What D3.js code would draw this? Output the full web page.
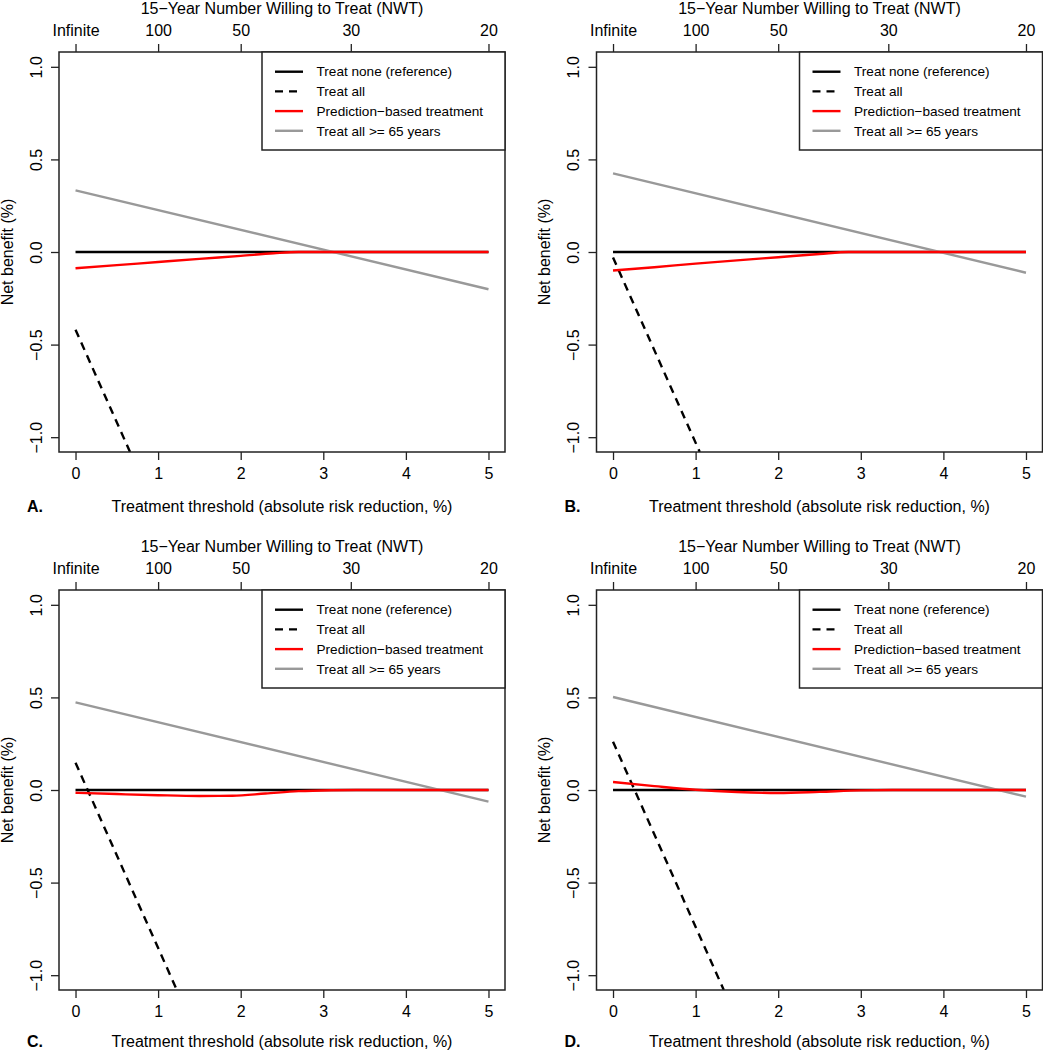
<!DOCTYPE html>
<html>
<head>
<meta charset="utf-8">
<script src="https://cdn.jsdelivr.net/npm/d3@7"></script>
<style>
  html, body { margin: 0; padding: 0; background: #fff; }
  svg { display: block; font-family: "Liberation Sans", Arial, sans-serif; }
</style>
</head>
<body>
<svg id="chart" width="1043" height="1050"></svg>
<script>
// ---------- data ----------
const panelLabels = ["A.", "B.", "C.", "D."];
const xTicks = [0, 1, 2, 3, 4, 5];
const yTicks = [-1.0, -0.5, 0.0, 0.5, 1.0];
const nwtLabels = ["Infinite", "100", "50", "30", "20"];
const nwtThresholds = [0, 1, 2, 3.333, 5];
const seriesNames = ["Treat none (reference)", "Treat all", "Prediction\u2212based treatment", "Treat all >= 65 years"];
const seriesColors = ["#000000", "#000000", "#ff0000", "#999999"];
const seriesDash = [null, "8,6", null, null];

const treatNoneA = [[0, 0], [5, 0]];
const treatAllA = [[0, -0.42], [0.66, -1.08]];
const predictionA = [[0, -0.088], [0.5, -0.071], [1, -0.054], [1.5, -0.037], [2, -0.021], [2.4, -0.007], [2.7, 0], [5, 0]];
const age65A = [[0, 0.333], [5, -0.201]];

const treatNoneB = [[0, 0], [5, 0]];
const treatAllB = [[0, -0.03], [1.05, -1.08]];
const predictionB = [[0, -0.100], [0.5, -0.082], [1, -0.063], [1.5, -0.045], [2, -0.028], [2.5, -0.011], [2.85, 0], [5, 0]];
const age65B = [[0, 0.425], [5, -0.112]];

const treatNoneC = [[0, 0], [5, 0]];
const treatAllC = [[0, 0.147], [1.227, -1.08]];
const predictionC = [[0, -0.015], [0.5, -0.022], [1, -0.028], [1.5, -0.032], [1.9, -0.031], [2.3, -0.019], [2.7, -0.006], [3.1, -0.001], [3.4, 0], [5, 0]];
const age65C = [[0, 0.473], [5, -0.063]];

const treatNoneD = [[0, 0], [5, 0]];
const treatAllD = [[0, 0.261], [1.341, -1.08]];
const predictionD = [[0, 0.043], [0.5, 0.021], [1, 0.001], [1.5, -0.011], [2, -0.016], [2.5, -0.010], [3, -0.002], [3.5, 0], [5, 0]];
const age65D = [[0, 0.502], [5, -0.036]];

const panelSeries = [
  [treatNoneA, treatAllA, predictionA, age65A],
  [treatNoneB, treatAllB, predictionB, age65B],
  [treatNoneC, treatAllC, predictionC, age65C],
  [treatNoneD, treatAllD, predictionD, age65D]
];

// ---------- layout ----------
const W = 1043, H = 1050;
const boxW = 446, boxH = 400;
const panelOrigins = [[59, 52], [596.5, 52], [59, 590], [596.5, 590]];
const fs = 16, legendFs = 13.6;

const svg = d3.select("#chart");

panelOrigins.forEach(([left, top], pi) => {
  const right = left + boxW, bottom = top + boxH;
  const x = d3.scaleLinear().domain([-0.2, 5.2]).range([left, right]);
  const y = d3.scaleLinear().domain([-1.08, 1.08]).range([bottom, top]);
  const g = svg.append("g");

  const clipId = "clip" + pi;
  svg.append("defs").append("clipPath").attr("id", clipId)
    .append("rect").attr("x", left).attr("y", top).attr("width", boxW).attr("height", boxH);

  const line = d3.line().x(d => x(d[0])).y(d => y(d[1]));
  const curved = d3.line().x(d => x(d[0])).y(d => y(d[1])).curve(d3.curveMonotoneX);
  const lg = g.append("g").attr("clip-path", `url(#${clipId})`);
  const order = [0, 1, 3, 2];
  order.forEach(si => {
    const data = panelSeries[pi][si];
    lg.append("path")
      .attr("d", si === 2 ? curved(data) : line(data))
      .attr("fill", "none")
      .attr("stroke", seriesColors[si])
      .attr("stroke-width", 2.4)
      .attr("stroke-dasharray", seriesDash[si]);
  });

  // bottom axis
  const bAxis = g.append("g").attr("transform", `translate(0,${bottom})`)
    .call(d3.axisBottom(x).tickValues(xTicks).tickSize(8).tickSizeOuter(0).tickFormat(d3.format("d")));
  bAxis.select(".domain").remove();
  bAxis.selectAll("line").attr("stroke", "#222").attr("stroke-width", 1.3);
  bAxis.selectAll("text").attr("font-size", fs).attr("font-family", "Liberation Sans, Arial, sans-serif")
    .attr("fill", "#000").attr("y", 21).attr("dy", "0.35em");

  // left axis (rotated labels)
  const lAxis = g.append("g").attr("transform", `translate(${left},0)`)
    .call(d3.axisLeft(y).tickValues(yTicks).tickSize(8).tickSizeOuter(0).tickFormat(d => d3.format(".1f")(d).replace("-", "\u2212")));
  lAxis.select(".domain").remove();
  lAxis.selectAll("line").attr("stroke", "#222").attr("stroke-width", 1.3);
  lAxis.selectAll("text").attr("font-size", fs).attr("font-family", "Liberation Sans, Arial, sans-serif")
    .attr("fill", "#000").attr("x", null).attr("dy", null)
    .attr("text-anchor", "middle").attr("dominant-baseline", "central")
    .attr("transform", "translate(-23,0) rotate(-90)");

  // top axis (NWT)
  const tAxis = g.append("g").attr("transform", `translate(0,${top})`)
    .call(d3.axisTop(x).tickValues(nwtThresholds).tickSize(8).tickSizeOuter(0).tickFormat((d, i) => nwtLabels[i]));
  tAxis.select(".domain").remove();
  tAxis.selectAll("line").attr("stroke", "#222").attr("stroke-width", 1.3);
  tAxis.selectAll("text").attr("font-size", fs).attr("font-family", "Liberation Sans, Arial, sans-serif")
    .attr("fill", "#000").attr("y", -22).attr("dy", "0.35em");

  // frame
  g.append("rect").attr("x", left).attr("y", top).attr("width", boxW).attr("height", boxH)
    .attr("fill", "none").attr("stroke", "#222").attr("stroke-width", 1.5);

  // titles
  const cx = (left + right) / 2;
  const titleOff = Math.min(54, H - bottom - 9);
  g.append("text").attr("x", cx).attr("y", top - 44).attr("dy", "0.35em")
    .attr("text-anchor", "middle").attr("font-size", fs)
    .text("15\u2212Year Number Willing to Treat (NWT)");
  g.append("text").attr("x", cx).attr("y", bottom + titleOff).attr("dy", "0.35em")
    .attr("text-anchor", "middle").attr("font-size", fs)
    .text("Treatment threshold (absolute risk reduction, %)");
  g.append("text").attr("transform", `translate(${left - 52},${(top + bottom) / 2}) rotate(-90)`)
    .attr("text-anchor", "middle").attr("dominant-baseline", "central").attr("font-size", fs)
    .text("Net benefit (%)");
  g.append("text").attr("x", left - 32).attr("y", bottom + titleOff).attr("dy", "0.35em")
    .attr("font-size", fs).attr("font-weight", "bold")
    .text(panelLabels[pi]);

  // legend
  const legL = right - 243, legB = top + 98;
  g.append("rect").attr("x", legL).attr("y", top).attr("width", right - legL).attr("height", legB - top)
    .attr("fill", "#fff").attr("stroke", "#222").attr("stroke-width", 1.5);
  seriesNames.forEach((name, si) => {
    const ry = top + 19.7 + si * 19.7;
    g.append("line").attr("x1", legL + 13).attr("x2", legL + 41).attr("y1", ry).attr("y2", ry)
      .attr("stroke", seriesColors[si]).attr("stroke-width", 2.4)
      .attr("stroke-dasharray", seriesDash[si]);
    g.append("text").attr("x", legL + 54.5).attr("y", ry).attr("dy", "0.35em")
      .attr("font-size", legendFs).text(name);
  });
});
</script>
</body>
</html>
